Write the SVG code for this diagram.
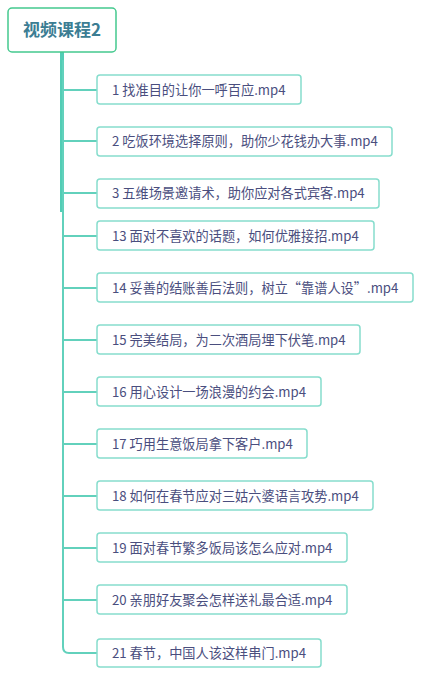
<svg xmlns="http://www.w3.org/2000/svg" width="422" height="678" viewBox="0 0 422 678">
<style>
.box{fill:#fff;stroke:#86ddcd;stroke-width:1.5}
.t{font-family:"Noto Sans CJK SC","Noto Sans",sans-serif;font-size:13.2px;fill:#4a4e7e}
.c{fill:none;stroke:#62d1bc;stroke-width:2}
</style>
<rect width="422" height="678" fill="#fff"/>
<g id="connectors">
<path d="M62 52V212" stroke="#52cdb5" stroke-width="4" fill="none"/>
<path class="c" d="M63 60V647Q63 653 69 653H97"/>
<path class="c" d="M63 90H97M63 141H97M63 193H97M63 236H97M63 288H97M63 340H97M63 392H97M63 444H97M63 496H97M63 548H97M63 600H97"/>
</g>
<g id="root">
<rect x="8" y="8" width="108" height="44" rx="4" fill="#fff" stroke="#44c98e" stroke-width="1.5"/>
<text x="62" y="36" text-anchor="middle" font-family="'Noto Sans CJK SC','Noto Sans',sans-serif" font-size="17" font-weight="bold" fill="#3b7d93">视频课程2</text>
</g>
<g id="n1"><rect class="box" x="97" y="75" width="204" height="29" rx="3"/><text class="t" x="112" y="94.5">1 找准目的让你一呼百应.mp4</text></g>
<g id="n2"><rect class="box" x="97" y="127" width="295" height="29" rx="3"/><text class="t" x="112" y="146">2 吃饭环境选择原则，助你少花钱办大事.mp4</text></g>
<g id="n3"><rect class="box" x="97" y="179" width="282" height="29" rx="3"/><text class="t" x="112" y="198">3 五维场景邀请术，助你应对各式宾客.mp4</text></g>
<g id="n13"><rect class="box" x="97" y="221" width="277" height="29" rx="3"/><text class="t" x="112" y="240.5">13 面对不喜欢的话题，如何优雅接招.mp4</text></g>
<g id="n14"><rect class="box" x="97" y="273" width="316" height="29" rx="3"/><text class="t" x="112" y="292.5">14 妥善的结账善后法则，树立“靠谱人设”.mp4</text></g>
<g id="n15"><rect class="box" x="97" y="325" width="263" height="29" rx="3"/><text class="t" x="112" y="344.5">15 完美结局，为二次酒局埋下伏笔.mp4</text></g>
<g id="n16"><rect class="box" x="97" y="377" width="224" height="29" rx="3"/><text class="t" x="112" y="396.5">16 用心设计一场浪漫的约会.mp4</text></g>
<g id="n17"><rect class="box" x="97" y="429" width="210" height="29" rx="3"/><text class="t" x="112" y="448.5">17 巧用生意饭局拿下客户.mp4</text></g>
<g id="n18"><rect class="box" x="97" y="481" width="276" height="29" rx="3"/><text class="t" x="112" y="500.5">18 如何在春节应对三姑六婆语言攻势.mp4</text></g>
<g id="n19"><rect class="box" x="97" y="533" width="250" height="29" rx="3"/><text class="t" x="112" y="552.5">19 面对春节繁多饭局该怎么应对.mp4</text></g>
<g id="n20"><rect class="box" x="97" y="585" width="250" height="29" rx="3"/><text class="t" x="112" y="604.5">20 亲朋好友聚会怎样送礼最合适.mp4</text></g>
<g id="n21"><rect class="box" x="97" y="639" width="224" height="28" rx="3"/><text class="t" x="112" y="658">21 春节，中国人该这样串门.mp4</text></g>
</svg>
